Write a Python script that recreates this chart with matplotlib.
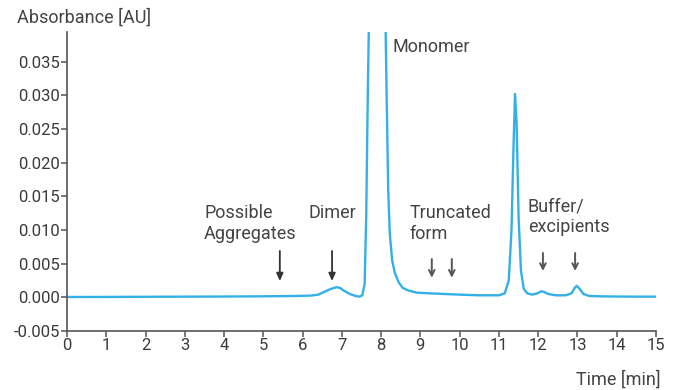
import matplotlib.pyplot as plt

plt.rcParams['font.family'] = ['Roboto', 'DejaVu Sans']

# Chromatogram trace: time [min] and absorbance [AU]
time_min = [0.0, 1.0, 2.0, 3.0, 4.0, 5.0, 5.8, 6.2, 6.4, 6.55, 6.7, 6.8, 6.87,
            6.95, 7.05, 7.2, 7.35, 7.45, 7.52, 7.58, 7.62, 7.66, 7.7,
            8.1, 8.14, 8.18, 8.22, 8.28, 8.35, 8.45, 8.55, 8.7, 8.9, 9.2,
            9.6, 10.0, 10.5, 11.0, 11.15, 11.25, 11.32, 11.37, 11.41, 11.45,
            11.5, 11.56, 11.63, 11.72, 11.85, 11.98, 12.08, 12.15, 12.25,
            12.45, 12.7, 12.85, 12.93, 12.98, 13.05, 13.15, 13.3, 13.6,
            14.0, 14.5, 15.0]
absorbance = [0.00005, 0.00006, 0.00008, 0.0001, 0.00012, 0.00015, 0.0002,
              0.00025, 0.0004, 0.0008, 0.0012, 0.0014, 0.0015, 0.0014, 0.001,
              0.0005, 0.0002, 0.0001, 0.0003, 0.002, 0.012, 0.03, 0.045,
              0.045, 0.03, 0.016, 0.0095, 0.0055, 0.0036, 0.0022, 0.0014,
              0.001, 0.0007, 0.0006, 0.0005, 0.0004, 0.0003, 0.0003, 0.0006,
              0.0025, 0.01, 0.022, 0.0302, 0.026, 0.012, 0.004, 0.0013,
              0.0006, 0.0004, 0.0006, 0.0009, 0.0008, 0.0005, 0.0003, 0.0003,
              0.0006, 0.0014, 0.0017, 0.0013, 0.0005, 0.0002, 0.00015,
              0.00012, 0.0001, 0.0001]

# Peak annotations: text, text anchor (top-left, except Dimer centred), arrows
labels = ["Possible\nAggregates", "Dimer", "Truncated\nform", "Buffer/\nexcipients"]
label_x = [3.49, 6.75, 8.73, 11.74]
label_top = [0.0139, 0.0139, 0.0139, 0.0148]
label_ha = ['left', 'center', 'left', 'left']
filled_arrows_x = [5.42, 6.75]
filled_arrows_y = (0.0073, 0.0020)
open_arrows_x = [9.29, 9.80, 12.12, 12.94]
open_arrows_y = [(0.0061, 0.0025), (0.0061, 0.0025), (0.0070, 0.0035), (0.0070, 0.0035)]

fig = plt.figure(figsize=(6.74, 3.9), dpi=100)
ax = fig.add_axes([67 / 674, (390 - 331) / 390, (656 - 67) / 674, (331 - 32) / 390])

ax.plot(time_min, absorbance, color='#33b0e8', lw=1.7, solid_joinstyle='round')

ax.set_xlim(0, 15)
ax.set_ylim(-0.005, 0.0394)
ax.set_xticks(range(16))
ax.set_yticks([-0.005, 0.0, 0.005, 0.01, 0.015, 0.02, 0.025, 0.03, 0.035])
ax.yaxis.set_major_formatter(plt.FuncFormatter(lambda v, p: f"{v:.3f}"))
for s in ['top', 'right']:
    ax.spines[s].set_visible(False)
for s in ['left', 'bottom']:
    ax.spines[s].set_color('#555555')
    ax.spines[s].set_linewidth(1.2)
ax.tick_params(colors='#555555', labelcolor='#3a3a3a', labelsize=12, length=4, width=1.1, pad=1)

txt = dict(color='#444444', fontsize=13)
fig.text(17 / 674, 1 - 18 / 390, "Absorbance [AU]", va='center', ha='left', **txt)
fig.text(661 / 674, 1 - 380 / 390, "Time [min]", va='center', ha='right', **txt)

for lab, x, y, ha in zip(labels, label_x, label_top, label_ha):
    ax.text(x, y, lab, ha=ha, va='top', **txt)
ax.text(8.30, 0.0371, "Monomer", ha='left', va='center', **txt)

for x in filled_arrows_x:
    ax.annotate("", xy=(x, filled_arrows_y[1]), xytext=(x, filled_arrows_y[0]),
                arrowprops=dict(arrowstyle='-|>,head_length=0.45,head_width=0.2',
                                color='#333333', lw=1.3))
for x, (y0, y1) in zip(open_arrows_x, open_arrows_y):
    ax.annotate("", xy=(x, y1), xytext=(x, y0),
                arrowprops=dict(arrowstyle='->,head_length=0.4,head_width=0.2',
                                color='#555555', lw=1.4))

fig.savefig("out.png", dpi=100)
